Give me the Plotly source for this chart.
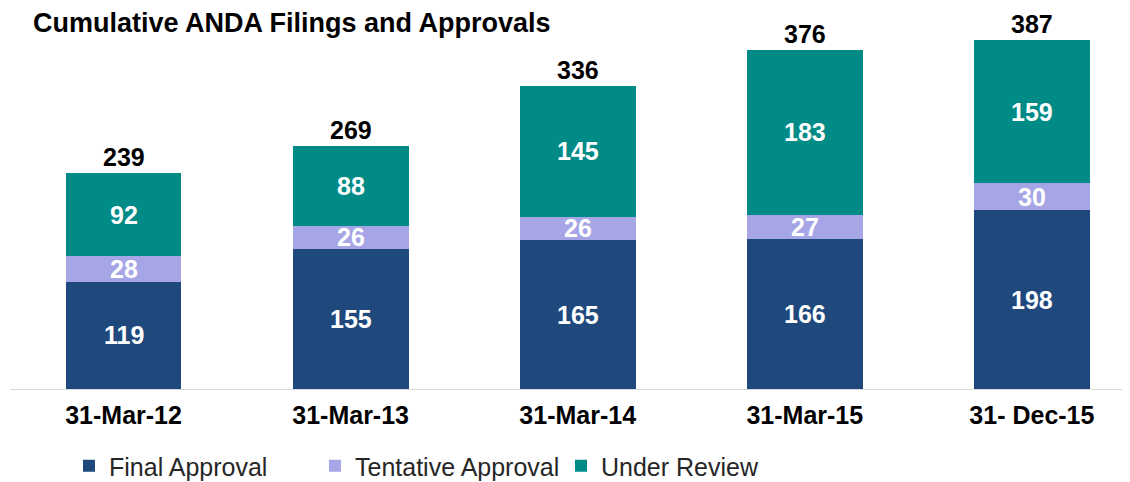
import plotly.graph_objects as go

categories = ["31-Mar-12", "31-Mar-13", "31-Mar-14", "31-Mar-15", "31- Dec-15"]
final_approval = [119, 155, 165, 166, 198]
tentative_approval = [28, 26, 26, 27, 30]
under_review = [92, 88, 145, 183, 159]
totals = [239, 269, 336, 376, 387]

series = [
    ("Final Approval", final_approval, "#1F497D"),
    ("Tentative Approval", tentative_approval, "#A6A6E6"),
    ("Under Review", under_review, "#008B87"),
]

FONT = "Liberation Sans, Arial, sans-serif"
fig = go.Figure()
base = [0] * len(categories)
for name, vals, color in series:
    xs = list(range(len(categories)))
    fig.add_trace(go.Bar(
        x=xs, y=vals, name=name,
        marker=dict(color=color, line=dict(width=0)),
        hoverinfo="y+name",
    ))
    for i, v in enumerate(vals):
        fig.add_annotation(x=i, y=base[i] + v / 2, text=f"<b>{v}</b>",
                           showarrow=False, yanchor="middle",
                           font=dict(family=FONT, size=25, color="white"))
        base[i] += v

for i, t in enumerate(totals):
    fig.add_annotation(x=i, y=t, text=f"<b>{t}</b>", showarrow=False,
                       yanchor="bottom", yshift=0,
                       font=dict(family=FONT, size=25, color="black"))

fig.update_layout(
    barmode="stack", bargap=0.49,
    width=1122, height=474,
    margin=dict(l=2, r=5, t=22, b=93),
    plot_bgcolor="white", paper_bgcolor="white",
    title=dict(text="<b>Cumulative ANDA Filings and Approvals</b>",
               x=25/1122, xanchor="left", y=1-15/474, yanchor="middle",
               font=dict(family=FONT, size=27, color="black")),
    xaxis=dict(range=[-0.5, 4.41], tickmode="array",
               tickvals=list(range(len(categories))),
               ticktext=[f"<b>{c}</b>" for c in categories],
               tickfont=dict(family=FONT, size=25, color="black"),
               showline=True, linecolor="#D9D9D9", linewidth=1,
               ticks="outside", ticklen=4, tickcolor="rgba(0,0,0,0)",
               showgrid=False, zeroline=False),
    yaxis=dict(range=[0, 398], visible=False, showgrid=False),
    legend=dict(orientation="h", xref="container", yref="container",
                x=61/1122, xanchor="left", y=16/474, yanchor="middle",
                font=dict(family=FONT, size=25, color="#262626"),
                traceorder="normal", itemwidth=30, entrywidth=201),
    showlegend=True,
)

fig.write_html("out.html")
